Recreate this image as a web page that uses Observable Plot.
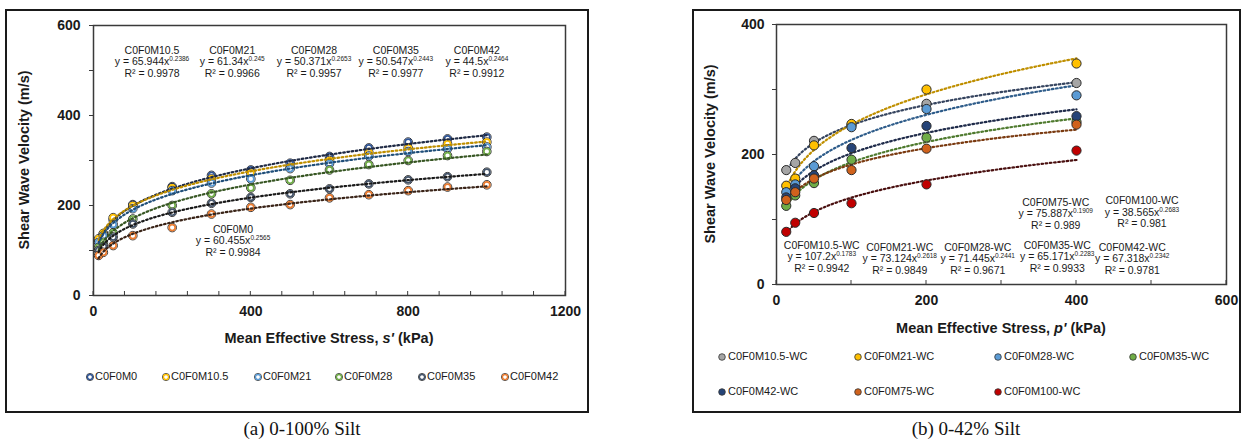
<!DOCTYPE html>
<html>
<head>
<meta charset="utf-8">
<script src="https://cdn.jsdelivr.net/npm/d3@7"></script>
<script src="https://cdn.jsdelivr.net/npm/@observablehq/plot@0.6"></script>
<style>
  body { margin: 0; background: #fff; }
  #root { position: relative; width: 1245px; height: 446px; overflow: hidden; background: #fff; }
  #root svg { position: absolute; overflow: visible; }
</style>
</head>
<body>
<div id="root"></div>
<script>
// ---------------- (a) 0-100% Silt ----------------
const stressA = [13, 25, 50, 100, 200, 300, 400, 500, 600, 700, 800, 900, 1000];
const vs_C0F0M0   = [120, 137, 168, 202, 242, 267, 279, 294, 309, 328, 341, 348, 352];
const vs_C0F0M105 = [126, 138, 173, 200, 239, 259, 272, 285, 300, 318, 328, 337, 341];
const vs_C0F0M21  = [118, 133, 158, 193, 233, 250, 259, 282, 293, 310, 320, 326, 330];
const vs_C0F0M28  = [107, 118, 139, 170, 200, 226, 239, 256, 279, 291, 300, 311, 320];
const vs_C0F0M35  = [100, 109, 130, 159, 185, 205, 218, 226, 237, 248, 257, 264, 274];
const vs_C0F0M42  = [ 89,  96, 111, 133, 151, 181, 196, 202, 217, 224, 233, 241, 246];
const namesA = ["C0F0M0", "C0F0M10.5", "C0F0M21", "C0F0M28", "C0F0M35", "C0F0M42"];
const coefA  = ["60.455", "65.944", "61.34", "50.371", "50.547", "44.5"];
const expA   = ["0.2565", "0.2386", "0.245", "0.2653", "0.2443", "0.2464"];
const r2A    = ["0.9984", "0.9978", "0.9966", "0.9957", "0.9977", "0.9912"];
const xTicksA = [0, 400, 800, 1200];
const yTicksA = [0, 200, 400, 600];

// ---------------- (b) 0-42% Silt ----------------
const stressB = [13, 25, 50, 100, 200, 400];
const vs_M105WC = [176, 187, 221, 245, 278, 310];
const vs_M21WC  = [152, 163, 214, 247, 300, 340];
const vs_M28WC  = [142, 154, 182, 242, 270, 291];
const vs_M35WC  = [121, 137, 156, 192, 226, 250];
const vs_M42WC  = [134, 148, 168, 210, 244, 259];
const vs_M75WC  = [130, 142, 163, 176, 209, 246];
const vs_M100WC = [ 81,  95, 110, 125, 154, 206];
const namesB = ["C0F0M10.5-WC", "C0F0M21-WC", "C0F0M28-WC", "C0F0M35-WC", "C0F0M42-WC", "C0F0M75-WC", "C0F0M100-WC"];
const coefB  = ["107.2", "73.124", "71.445", "65.171", "67.318", "75.887", "38.565"];
const expB   = ["0.1783", "0.2618", "0.2441", "0.2283", "0.2342", "0.1909", "0.2683"];
const r2B    = ["0.9942", "0.9849", "0.9671", "0.9933", "0.9781", "0.989", "0.981"];
const xTicksB = [0, 200, 400, 600];
const yTicksB = [0, 200, 400];

// ---------------- styles / layout ----------------
const FONT = "'Liberation Sans', Arial, sans-serif";
const markerA = ["#2F5597", "#FFC000", "#5B9BD5", "#70AD47", "#44546A", "#ED7D31"];
const trendA  = ["#1F2A44", "#BF8F00", "#1F4E79", "#375623", "#1A1A1A", "#3A2418"];
const fillB   = ["#A5A5A5", "#FFC000", "#5B9BD5", "#70AD47", "#264478", "#D0621C", "#C00000"];
const trendB  = ["#34435E", "#BF8F00", "#2E5C8A", "#4E7A2E", "#1F2B4A", "#7A3A10", "#4A1010"];
// annotation anchors (data units of each panel)
const notePosA = [[356, 147], [150, 544], [354, 544], [562, 544], [770, 544], [976, 544]];
const notePosB = [[61, 60], [165, 57], [269, 57], [375, 60], [475, 57], [373, 126], [488, 128]];

const valuesA = [vs_C0F0M0, vs_C0F0M105, vs_C0F0M21, vs_C0F0M28, vs_C0F0M35, vs_C0F0M42];
const valuesB = [vs_M105WC, vs_M21WC, vs_M28WC, vs_M35WC, vs_M42WC, vs_M75WC, vs_M100WC];

// power-law least squares fit in log space (like a spreadsheet power trendline)
function powerFit(xs, ys) {
  const lx = xs.map(Math.log), ly = ys.map(Math.log);
  const mx = d3.mean(lx), my = d3.mean(ly);
  const b = d3.sum(lx, (v, i) => (v - mx) * (ly[i] - my)) / d3.sum(lx, v => (v - mx) ** 2);
  const a = Math.exp(my - b * mx);
  return {a, b};
}
function trendRows(xs, ys) {
  const {a, b} = powerFit(xs, ys);
  const x0 = d3.min(xs), x1 = d3.max(xs);
  return d3.range(0, 121).map(i => {
    const x = x0 * Math.pow(x1 / x0, i / 120);
    return {x, y: a * Math.pow(x, b)};
  });
}
function pointRows(xs, ys) { return xs.map((x, i) => ({x, y: ys[i]})); }

const root = document.getElementById("root");

// ---------- overlay: boxes, titles, legends, captions ----------
const over = d3.select(root).append("svg")
  .attr("width", 1245).attr("height", 446)
  .style("left", "0px").style("top", "0px");
over.append("rect").attr("x", 6).attr("y", 10).attr("width", 582).attr("height", 402)
  .attr("fill", "none").attr("stroke", "#1a1a1a").attr("stroke-width", 2);
over.append("rect").attr("x", 693).attr("y", 10).attr("width", 547).attr("height", 402)
  .attr("fill", "none").attr("stroke", "#1a1a1a").attr("stroke-width", 2);

function yTitle(x, y) {
  over.append("text").attr("transform", `translate(${x},${y}) rotate(-90)`)
    .attr("text-anchor", "middle").attr("dominant-baseline", "middle")
    .attr("font-family", FONT).attr("font-weight", "bold").attr("font-size", 14.5).attr("fill", "#1a1a1a")
    .text("Shear Wave Velocity (m/s)");
}
function xTitle(x, y, sym) {
  const t = over.append("text").attr("x", x).attr("y", y)
    .attr("text-anchor", "middle").attr("dominant-baseline", "middle")
    .attr("font-family", FONT).attr("font-weight", "bold").attr("font-size", 14.5).attr("fill", "#1a1a1a");
  t.append("tspan").text("Mean Effective Stress, ");
  t.append("tspan").attr("font-style", "italic").text(sym + "'");
  t.append("tspan").text(" (kPa)");
}
yTitle(25, 160);
xTitle(329, 339, "s");
yTitle(711, 154);
xTitle(1001, 329, "p");

over.append("text").attr("x", 302).attr("y", 431).attr("text-anchor", "middle").attr("dominant-baseline", "middle")
  .attr("font-family", "'Liberation Serif', 'Times New Roman', serif").attr("font-size", 19).attr("fill", "#111")
  .text("(a) 0-100% Silt");
over.append("text").attr("x", 966).attr("y", 431).attr("text-anchor", "middle").attr("dominant-baseline", "middle")
  .attr("font-family", "'Liberation Serif', 'Times New Roman', serif").attr("font-size", 19).attr("fill", "#111")
  .text("(b) 0-42% Silt");

// legend (a)
const legAx = [90, 166, 258, 339, 422, 505];
namesA.forEach((n, i) => {
  const g = over.append("g").attr("transform", `translate(${legAx[i]},377)`);
  g.append("circle").attr("r", 3.6).attr("fill", "#fff").attr("stroke", "#222").attr("stroke-width", 0.8);
  g.append("circle").attr("r", 2.5).attr("fill", "#fff").attr("stroke", markerA[i]).attr("stroke-width", 1.4);
  g.append("text").attr("x", 5).attr("dominant-baseline", "middle").attr("font-family", FONT)
    .attr("font-size", 11).attr("fill", "#1a1a1a").text(n);
});
// legend (b)
const legBpos = [[722, 357], [858, 357], [998, 357], [1133, 357], [722, 392], [858, 392], [998, 392]];
namesB.forEach((n, i) => {
  const g = over.append("g").attr("transform", `translate(${legBpos[i][0]},${legBpos[i][1]})`);
  g.append("circle").attr("r", 3.3).attr("fill", fillB[i]).attr("stroke", "#333").attr("stroke-width", 0.8);
  g.append("text").attr("x", 6).attr("dominant-baseline", "middle").attr("font-family", FONT)
    .attr("font-size", 11).attr("fill", "#1a1a1a").text(n);
});

// ---------- helpers for plot extras ----------
function addInnerXTicks(plot, values) {
  const sx = plot.scale("x"), sy = plot.scale("y");
  const y0 = sy.apply(sy.domain[0]);
  d3.select(plot).append("g").selectAll("line").data(values).join("line")
    .attr("x1", d => sx.apply(d)).attr("x2", d => sx.apply(d))
    .attr("y1", y0).attr("y2", y0 - 4).attr("stroke", "#3a3a3a").attr("stroke-width", 1);
}
function addNotes(plot, pos, names, coefs, exps, r2s, fs) {
  const sx = plot.scale("x"), sy = plot.scale("y");
  const g = d3.select(plot).append("g").attr("font-family", FONT).attr("font-size", fs)
    .attr("fill", "#1a1a1a").attr("text-anchor", "middle");
  names.forEach((n, i) => {
    const x = sx.apply(pos[i][0]), y = sy.apply(pos[i][1]);
    g.append("text").attr("x", x).attr("y", y).attr("dy", "0.35em").text(n);
    const t = g.append("text").attr("x", x).attr("y", y + 11.5).attr("dy", "0.35em");
    t.append("tspan").text(`y = ${coefs[i]}x`);
    t.append("tspan").attr("font-size", fs * 0.62).attr("dy", -4).text(exps[i]);
    g.append("text").attr("x", x).attr("y", y + 23).attr("dy", "0.35em").text(`R² = ${r2s[i]}`);
  });
}
const DASH = "1.6,2.6";

// ---------- Plot (a) ----------
const marksA = [];
valuesA.forEach((ys, i) => {
  marksA.push(Plot.dot(pointRows(stressA, ys), {x: "x", y: "y", r: 4.3, fill: "#fff", stroke: "#1e1e1e", strokeWidth: 0.9}));
  marksA.push(Plot.dot(pointRows(stressA, ys), {x: "x", y: "y", r: 3.0, fill: "#fff", stroke: markerA[i], strokeWidth: 1.7}));
});
valuesA.forEach((ys, i) => {
  marksA.push(Plot.line(trendRows(stressA, ys), {x: "x", y: "y", stroke: trendA[i], strokeWidth: 2.2, strokeDasharray: DASH}));
});
const plotA = Plot.plot({
  width: 600, height: 340,
  marginLeft: 93, marginRight: 35, marginTop: 25, marginBottom: 45,
  x: {domain: [0, 1200]},
  y: {domain: [0, 600]},
  style: {fontFamily: FONT, background: "transparent", color: "#1a1a1a", overflow: "visible"},
  marks: [
    Plot.axisY(d3.range(0, 601, 100), {tickSize: 4, tickPadding: 9, fontSize: 14, fontWeight: "bold",
      tickFormat: d => yTicksA.includes(d) ? String(d) : "", label: null, stroke: "#3a3a3a"}),
    Plot.axisX(xTicksA, {tickSize: 0, tickPadding: 11, fontSize: 14, fontWeight: "bold", label: null,
      tickFormat: d => String(d)}),
    ...marksA,
    Plot.frame({stroke: "#3a3a3a", strokeWidth: 1.5})
  ]
});
plotA.style.left = "0px"; plotA.style.top = "0px";
root.appendChild(plotA);
addInnerXTicks(plotA, d3.range(0, 1201, 80));
addNotes(plotA, notePosA, namesA, coefA, expA, r2A, 10.5);

// ---------- Plot (b) ----------
const marksB = [];
valuesB.forEach((ys, i) => {
  marksB.push(Plot.line(trendRows(stressB, ys), {x: "x", y: "y", stroke: trendB[i], strokeWidth: 2.2, strokeDasharray: DASH}));
});
valuesB.forEach((ys, i) => {
  marksB.push(Plot.dot(pointRows(stressB, ys), {x: "x", y: "y", r: 4.6, fill: fillB[i], stroke: "#2b2b2b", strokeWidth: 1}));
});
const plotB = Plot.plot({
  width: 552, height: 330,
  marginLeft: 83, marginRight: 19, marginTop: 24, marginBottom: 46,
  x: {domain: [0, 600]},
  y: {domain: [0, 400]},
  style: {fontFamily: FONT, background: "transparent", color: "#1a1a1a", overflow: "visible"},
  marks: [
    Plot.axisY(d3.range(0, 401, 100), {tickSize: 4, tickPadding: 8, fontSize: 14, fontWeight: "bold",
      tickFormat: d => yTicksB.includes(d) ? String(d) : "", label: null, stroke: "#3a3a3a"}),
    Plot.axisX(xTicksB, {tickSize: 0, tickPadding: 11, fontSize: 14, fontWeight: "bold", label: null,
      tickFormat: d => String(d)}),
    ...marksB,
    Plot.frame({stroke: "#3a3a3a", strokeWidth: 1.5})
  ]
});
plotB.style.left = "693px"; plotB.style.top = "0px";
root.appendChild(plotB);
addInnerXTicks(plotB, d3.range(0, 601, 100));
addNotes(plotB, notePosB, namesB, coefB, expB, r2B, 10.5);
</script>
</body>
</html>
